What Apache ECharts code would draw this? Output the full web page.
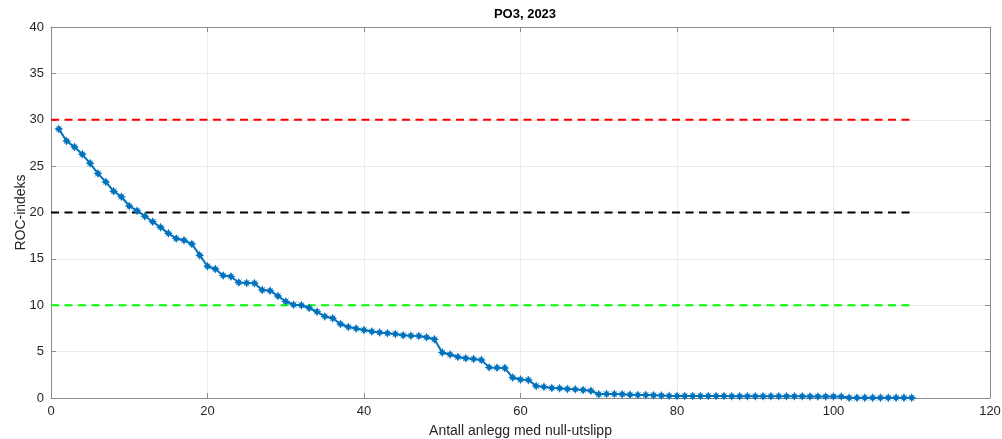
<!DOCTYPE html>
<html>
<head>
<meta charset="utf-8">
<script src="https://cdn.jsdelivr.net/npm/echarts@6/dist/echarts.min.js"></script>
<style>
html,body{margin:0;padding:0;background:#fff;}
#chart{width:1002px;height:439px;}
</style>
</head>
<body>
<div id="chart"></div>
<script>
// ROC index per plant, sorted descending (plant rank 1..110)
const rocIndex = [
  29.0, 27.7, 27.06, 26.27, 25.3, 24.2, 23.3, 22.3, 21.7, 20.7,
  20.2, 19.6, 19.0, 18.4, 17.75, 17.2, 17.0, 16.6, 15.4, 14.2,
  13.9, 13.2, 13.1, 12.45, 12.4, 12.37, 11.65, 11.57, 11.0, 10.4,
  10.06, 10.0, 9.7, 9.3, 8.8, 8.6, 7.98, 7.65, 7.5, 7.33,
  7.17, 7.07, 6.97, 6.9, 6.76, 6.72, 6.68, 6.54, 6.33, 4.9,
  4.7, 4.42, 4.28, 4.2, 4.1, 3.3, 3.27, 3.23, 2.2, 2.0,
  1.95, 1.3, 1.2, 1.08, 1.04, 0.97, 0.93, 0.86, 0.79, 0.4,
  0.43, 0.42, 0.4, 0.36, 0.32, 0.32, 0.3, 0.28, 0.23, 0.22,
  0.22, 0.22, 0.22, 0.21, 0.21, 0.21, 0.2, 0.2, 0.2, 0.2,
  0.19, 0.19, 0.19, 0.18, 0.18, 0.18, 0.17, 0.17, 0.16, 0.16,
  0.15, 0.03, 0.03, 0.02, 0.02, 0.02, 0.02, 0.02, 0.02, 0.02
];
const plantRank = rocIndex.map((v, i) => i + 1);

// Threshold levels drawn as dashed horizontal lines
const thresholds = [30, 20, 10];
const thresholdColors = ['#ff0000', '#000000', '#00ff00'];
const thresholdSpan = [0, 110];

const xTicks = [0, 20, 40, 60, 80, 100, 120];
const yTicks = [0, 5, 10, 15, 20, 25, 30, 35, 40];

const chart = echarts.init(document.getElementById('chart'), null, {renderer: 'canvas'});

const font = 'Liberation Sans, Arial, Helvetica, sans-serif';
const boxColor = '#8c8c8c';
const gridColor = '#ebebeb';

const star = 'path://M0,-10 L2.8,-4.4 L7.1,-7.1 L4.4,-2.8 L10,0 L4.4,2.8 L7.1,7.1 L2.8,4.4 L0,10 L-2.8,4.4 L-7.1,7.1 L-4.4,2.8 L-10,0 L-4.4,-2.8 L-7.1,-7.1 L-2.8,-4.4 Z';

const series = thresholds.map((lvl, k) => ({
  type: 'line',
  data: thresholdSpan.map(x => [x, lvl]),
  symbol: 'none',
  silent: true,
  lineStyle: {color: thresholdColors[k], width: 2, type: [8, 5.5]},
  z: 2
}));

series.push({
  type: 'line',
  data: plantRank.map((x, i) => [x, rocIndex[i]]),
  symbol: star,
  symbolSize: 9,
  lineStyle: {color: '#0072bd', width: 2},
  itemStyle: {color: '#0072bd'},
  z: 3
});

const axisCommon = {
  type: 'value',
  axisLine: {show: true, onZero: false, lineStyle: {color: boxColor, width: 1}},
  axisTick: {show: true, inside: true, length: 5, lineStyle: {color: boxColor}},
  axisLabel: {color: '#262626', fontSize: 13, fontFamily: font}
};

chart.setOption({
  animation: false,
  backgroundColor: '#fff',
  title: {
    text: 'PO3, 2023',
    left: 520, top: 3, textAlign: 'center',
    textStyle: {fontSize: 13, fontWeight: 'bold', color: '#000', fontFamily: font}
  },
  grid: {left: 51, right: 12, top: 27, bottom: 41, containLabel: false, outerBoundsMode: 'none'},
  xAxis: [
    Object.assign({}, axisCommon, {
      min: 0, max: 120, interval: 20,
      name: 'Antall anlegg med null-utslipp',
      nameLocation: 'middle', nameGap: 26, nameMoveOverlap: false,
      nameTextStyle: {color: '#262626', fontSize: 14, fontFamily: font},
      splitLine: {show: true, lineStyle: {color: gridColor, width: 1}},
      axisLabel: {color: '#262626', fontSize: 13, fontFamily: font, margin: 7}
    }),
    Object.assign({}, axisCommon, {
      position: 'top', min: 0, max: 120, interval: 20,
      axisLabel: {show: false}, splitLine: {show: false}
    })
  ],
  yAxis: [
    Object.assign({}, axisCommon, {
      min: 0, max: 40, interval: 5,
      name: 'ROC-indeks',
      nameLocation: 'middle', nameGap: 23, nameMoveOverlap: false,
      nameTextStyle: {color: '#262626', fontSize: 14, fontFamily: font},
      splitLine: {show: true, lineStyle: {color: gridColor, width: 1}},
      axisLabel: {color: '#262626', fontSize: 13, fontFamily: font, margin: 7}
    }),
    Object.assign({}, axisCommon, {
      position: 'right', min: 0, max: 40, interval: 5,
      axisLabel: {show: false}, splitLine: {show: false}
    })
  ],
  series: series
});
</script>
</body>
</html>
